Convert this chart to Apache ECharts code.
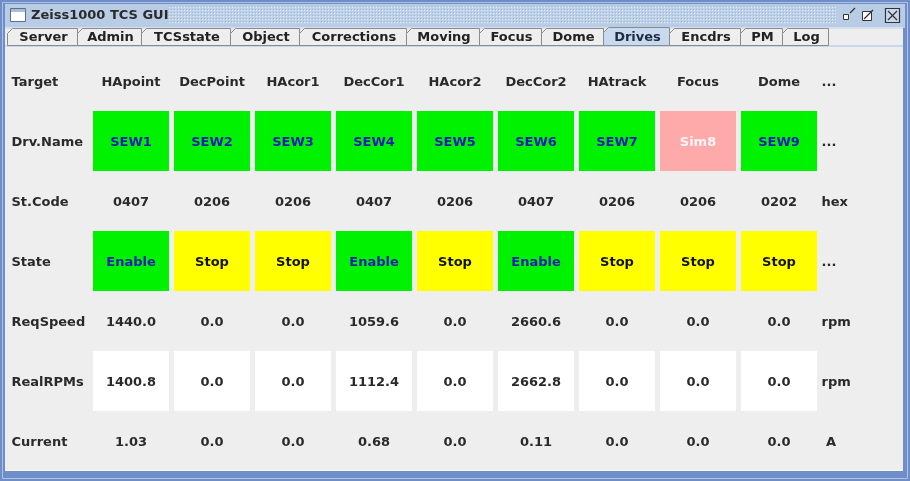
<!DOCTYPE html>
<html><head><meta charset="utf-8">
<script src="https://cdn.jsdelivr.net/npm/echarts/dist/echarts.min.js"></script>
<style>html,body{margin:0;padding:0;background:#eeeeee}#c{width:910px;height:481px}</style>
</head><body><div id="c"></div><script>
// ---- data ----
const rowLabels = ['Target','Drv.Name','St.Code','State','ReqSpeed','RealRPMs','Current'];
const unitLabels = ['...','...','hex','...','rpm','rpm','A'];
const targets = ['HApoint','DecPoint','HAcor1','DecCor1','HAcor2','DecCor2','HAtrack','Focus','Dome'];
const drvNames = ['SEW1','SEW2','SEW3','SEW4','SEW5','SEW6','SEW7','Sim8','SEW9'];
const stCodes = ['0407','0206','0206','0407','0206','0407','0206','0206','0202'];
const states = ['Enable','Stop','Stop','Enable','Stop','Enable','Stop','Stop','Stop'];
const reqSpeed = [1440.0, 0.0, 0.0, 1059.6, 0.0, 2660.6, 0.0, 0.0, 0.0];
const realRPMs = [1400.8, 0.0, 0.0, 1112.4, 0.0, 2662.8, 0.0, 0.0, 0.0];
const current = ['1.03','0.0','0.0','0.68','0.0','0.11','0.0','0.0','0.0'];
const tabNames = ['Server','Admin','TCSstate','Object','Corrections','Moving','Focus','Dome','Drives','Encdrs','PM','Log'];
const selectedTab = 'Drives';
const windowTitle = 'Zeiss1000 TCS GUI';

// ---- styles ----
const FONT = 'bold 13px "DejaVu Sans", sans-serif';
const GREEN = '#00f200', YELLOW = '#ffff00', PINK = '#ffaaaa', WHITE = '#ffffff';
function cellStyle(row, text) {
  if (row === 1) return text.indexOf('Sim') === 0 ? {bg: PINK, fg: '#f6f6f6'} : {bg: GREEN, fg: '#1a1ab8'};
  if (row === 3) return text === 'Enable' ? {bg: GREEN, fg: '#2020b0'} : {bg: YELLOW, fg: '#111111'};
  if (row === 5) return {bg: WHITE, fg: '#2a2a2a'};
  return {bg: null, fg: '#2a2a2a'};
}
const rows = [
  targets,
  drvNames,
  stCodes,
  states,
  reqSpeed.map(v => v.toFixed(1)),
  realRPMs.map(v => v.toFixed(1)),
  current
];
const cells = [];
rows.forEach((arr, r) => arr.forEach((t, c) => cells.push([c, r, t])));

// ---- window chrome (graphic) ----
const tabEdges = [7, 77, 141, 230, 299, 406, 479, 541, 603, 669, 740, 782, 828];
const chrome = [];
chrome.push({type:'rect', shape:{x:0,y:0,width:910,height:481}, style:{fill:'#6f8dc6'}, silent:true});
chrome.push({type:'rect', shape:{x:2.5,y:2.5,width:905,height:476}, style:{fill:'none', stroke:'#aec2e6', lineWidth:1}, silent:true});
chrome.push({type:'rect', shape:{x:5,y:4,width:900,height:24}, style:{fill:'#b8cce6'}, silent:true});
// dotted texture
const pc = document.createElement('canvas'); pc.width = 3; pc.height = 3;
const pctx = pc.getContext('2d'); pctx.fillStyle = '#bcd0e8'; pctx.fillRect(0,0,3,3);
pctx.fillStyle = '#9db4d8'; pctx.fillRect(0,0,1,1); pctx.fillStyle = '#e6eef8'; pctx.fillRect(1,1,1,1);
chrome.push({type:'rect', shape:{x:168,y:7,width:668,height:17}, style:{fill:{image:pc, repeat:'repeat'}}, silent:true});
// window icon
chrome.push({type:'rect', shape:{x:10.5,y:8.5,width:15,height:13}, style:{fill:'#ffffff', stroke:'#5a6e8e', lineWidth:1}, silent:true});
chrome.push({type:'rect', shape:{x:11,y:9,width:14,height:3}, style:{fill:'#a9bcd8'}, silent:true});
chrome.push({type:'text', style:{text:windowTitle, x:31, y:16, font:'bold 13px "DejaVu Sans", sans-serif', fill:'#2a2a2a', verticalAlign:'middle'}, silent:true});
// title buttons
chrome.push({type:'rect', shape:{x:843.5,y:14.5,width:5,height:5}, style:{fill:'#ffffff', stroke:'#333', lineWidth:1}, silent:true});
chrome.push({type:'line', shape:{x1:850,y1:13,x2:855,y2:8}, style:{stroke:'#333', lineWidth:1.2}, silent:true});
chrome.push({type:'rect', shape:{x:862.5,y:11.5,width:9,height:9}, style:{fill:'#ffffff', stroke:'#333', lineWidth:1}, silent:true});
chrome.push({type:'line', shape:{x1:864,y1:19,x2:873,y2:10}, style:{stroke:'#333', lineWidth:1.2}, silent:true});
chrome.push({type:'rect', shape:{x:885.5,y:8.5,width:14,height:14}, style:{fill:'#c9d8ee', stroke:'#333', lineWidth:1.2}, silent:true});
chrome.push({type:'line', shape:{x1:888,y1:11,x2:897,y2:20}, style:{stroke:'#333', lineWidth:1.2}, silent:true});
chrome.push({type:'line', shape:{x1:897,y1:11,x2:888,y2:20}, style:{stroke:'#333', lineWidth:1.2}, silent:true});
// content area
chrome.push({type:'rect', shape:{x:5,y:28,width:898,height:442}, style:{fill:'#eeeeee'}, silent:true});
chrome.push({type:'rect', shape:{x:5,y:27,width:898,height:2}, style:{fill:'#d4e0f0'}, silent:true});
chrome.push({type:'rect', shape:{x:5,y:45,width:898,height:2}, style:{fill:'#c8d9ee'}, silent:true});
chrome.push({type:'rect', shape:{x:5,y:470,width:898,height:1}, style:{fill:'#f8f8f8'}, silent:true});
tabNames.forEach((name, i) => {
  const x0 = tabEdges[i] + 0.5, x1 = tabEdges[i+1] + 0.5;
  const sel = name === selectedTab;
  const yt = sel ? 27.5 : 28.5, yb = 45.5;
  chrome.push({type:'polygon', shape:{points:[[x0,yb],[x0,yt+5],[x0+5,yt],[x1,yt],[x1,yb]]},
    style:{fill: sel ? '#c8daf0' : '#eeeeee', stroke:'#8a8a8a', lineWidth:1}, silent:true});
  chrome.push({type:'text', style:{text:name, x:(x0+x1)/2+1, y:37.5, font:FONT, fill: sel ? '#1e2a40' : '#222222', align:'center', verticalAlign:'middle'}, silent:true});
});

const labelCommon = {color:'#2a2a2a', fontFamily:'DejaVu Sans', fontWeight:'bold', fontSize:13, verticalAlign:'top', lineHeight:4};
const chart = echarts.init(document.getElementById('c'), null, {renderer:'canvas'});
chart.setOption({
  animation: false,
  backgroundColor: '#eeeeee',
  graphic: {elements: chrome.map(e => Object.assign({z: -10}, e))},
  grid: {left: 89.5, top: 51, width: 729, height: 420},
  xAxis: {type:'category', data: targets, show:false},
  yAxis: [
    {type:'category', data: rowLabels, inverse:true, position:'left',
     axisLine:{show:false}, axisTick:{show:false}, splitLine:{show:false},
     axisLabel:Object.assign({align:'left', margin:78}, labelCommon)},
    {type:'category', data: unitLabels.map((u,i)=>rowLabels[i]), inverse:true, position:'right',
     axisLine:{show:false}, axisTick:{show:false}, splitLine:{show:false},
     axisLabel:Object.assign({align:'left', margin:3,
       formatter:(v, i) => (unitLabels[i] === 'A' ? ' A' : unitLabels[i])}, labelCommon)}
  ],
  series: [{
    type:'custom',
    data: cells,
    encode: {x:0, y:1},
    renderItem: function(params, api) {
      const c = api.value(0), r = api.value(1);
      const text = rows[r][c];
      const pt = api.coord([c, r]);
      const sz = api.size([1, 1]);
      const st = cellStyle(r, text);
      const children = [];
      if (st.bg) children.push({type:'rect', shape:{x: Math.round(pt[0]-sz[0]/2)+3, y: Math.round(pt[1]-sz[1]/2), width: Math.round(sz[0])-5, height: Math.round(sz[1])}, style:{fill: st.bg}});
      children.push({type:'text', style:{text: text, x: pt[0]+1, y: pt[1]+2, font: FONT, fill: st.fg, align:'center', verticalAlign:'middle'}});
      return {type:'group', children: children};
    }
  }]
});
</script></body></html>
